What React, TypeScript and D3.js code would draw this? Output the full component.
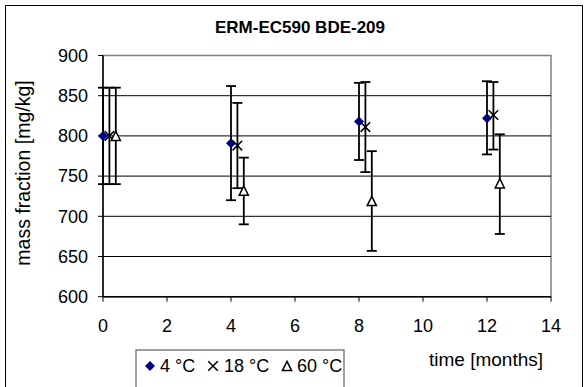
import React from "react";
import * as d3 from "d3";

const seriesNames = ["4 °C", "18 °C", "60 °C"];
const times4 = [0, 4, 8, 12];
const values4 = [800, 791, 818, 822];
const low4 = [740, 720, 770, 777];
const high4 = [860, 862, 866, 868];

const times18 = [0.2, 4.2, 8.2, 12.2];
const values18 = [800, 788, 811, 826];
const low18 = [740, 735, 755, 783];
const high18 = [860, 841, 867, 867];

const times60 = [0.4, 4.4, 8.4, 12.4];
const values60 = [800, 732, 719, 741];
const low60 = [740, 690, 657, 678];
const high60 = [860, 773, 781, 802];

const xTicks = [0, 2, 4, 6, 8, 10, 12, 14];
const yTicks = [600, 650, 700, 750, 800, 850, 900];

const W = 588, H = 387;
const FONT = "Arial, 'Liberation Sans', sans-serif";

export default function App() {
  const left = 103, right = 551, top = 55.5, bottom = 296.7;
  const x = d3.scaleLinear().domain([0, 14]).range([left, right]);
  const y = d3.scaleLinear().domain([600, 900]).range([bottom, top]);

  const series = [
    { t: times4, v: values4, lo: low4, hi: high4, kind: "diamond" },
    { t: times18, v: values18, lo: low18, hi: high18, kind: "x" },
    { t: times60, v: values60, lo: low60, hi: high60, kind: "tri" },
  ];

  const marker = (kind: string, cx: number, cy: number, key: string) => {
    if (kind === "diamond") {
      const s = 5;
      return <path key={key} d={`M${cx},${cy - s}L${cx + s},${cy}L${cx},${cy + s}L${cx - s},${cy}Z`} fill="#000080" />;
    }
    if (kind === "x") {
      const s = 4.8;
      return <path key={key} d={`M${cx - s},${cy - s}L${cx + s},${cy + s}M${cx - s},${cy + s}L${cx + s},${cy - s}`} stroke="#000" strokeWidth={1.5} fill="none" />;
    }
    const s = 4.6;
    return <path key={key} d={`M${cx},${cy - s}L${cx + s},${cy + s}L${cx - s},${cy + s}Z`} stroke="#000" strokeWidth={1.5} fill="#fff" />;
  };

  return (
    <svg width={W} height={H} style={{ position: "absolute", left: 0, top: 0 }} fontFamily={FONT}>
      <rect x={0} y={0} width={W} height={H} fill="#fff" />
      <rect x={5.5} y={5.5} width={577} height={400} fill="none" stroke="#000" strokeWidth={1} />
      <text x={300} y={33} textAnchor="middle" fontWeight="bold" fontSize={17}>ERM-EC590 BDE-209</text>

      {/* plot border */}
      <rect x={left} y={top} width={right - left} height={bottom - top} fill="none" stroke="#808080" strokeWidth={1.5} />
      {/* gridlines */}
      {yTicks.filter(t => t > 600 && t < 900).map(t => (
        <line key={t} x1={left} x2={right} y1={y(t)} y2={y(t)} stroke="#000" strokeWidth={1} />
      ))}
      {/* axes */}
      <line x1={left} x2={left} y1={top} y2={bottom} stroke="#000" strokeWidth={1.5} />
      <line x1={left} x2={right} y1={bottom} y2={bottom} stroke="#000" strokeWidth={1.5} />
      {yTicks.map(t => (
        <g key={t}>
          <line x1={left - 5} x2={left} y1={y(t)} y2={y(t)} stroke="#000" strokeWidth={1} />
          <text x={88} y={y(t) + 6.3} textAnchor="end" fontSize={18}>{t}</text>
        </g>
      ))}
      {xTicks.map(t => (
        <g key={t}>
          <line x1={x(t)} x2={x(t)} y1={bottom} y2={bottom + 5} stroke="#000" strokeWidth={1} />
          <text x={x(t)} y={331.5} textAnchor="middle" fontSize={18}>{t}</text>
        </g>
      ))}
      <text transform="translate(30,173) rotate(-90)" textAnchor="middle" fontSize={19.5}>mass fraction [mg/kg]</text>
      <text x={486} y={366} textAnchor="middle" fontSize={19}>time [months]</text>

      {/* error bars and markers */}
      {series.map((s, si) => (
        <g key={si}>
          {s.t.map((t, i) => (
            <g key={i}>
              <line x1={x(t)} x2={x(t)} y1={y(s.hi[i])} y2={y(s.lo[i])} stroke="#000" strokeWidth={1.8} />
              <line x1={x(t) - 5} x2={x(t) + 5} y1={y(s.hi[i])} y2={y(s.hi[i])} stroke="#000" strokeWidth={1.8} />
              <line x1={x(t) - 5} x2={x(t) + 5} y1={y(s.lo[i])} y2={y(s.lo[i])} stroke="#000" strokeWidth={1.8} />
            </g>
          ))}
        </g>
      ))}
      {series.map((s, si) => (
        <g key={"m" + si}>
          {s.t.map((t, i) => marker(s.kind, x(t), y(s.v[i]), `${si}-${i}`))}
        </g>
      ))}

      {/* legend */}
      <rect x={136} y={350} width={208} height={60} fill="#fff" stroke="#808080" strokeWidth={1.5} />
      {marker("diamond", 150, 366, "l1")}
      <text x={160} y={372} fontSize={18}>{seriesNames[0]}</text>
      {marker("x", 213, 366, "l2")}
      <text x={224} y={372} fontSize={18}>{seriesNames[1]}</text>
      {marker("tri", 287, 366, "l3")}
      <text x={297} y={372} fontSize={18}>{seriesNames[2]}</text>
    </svg>
  );
}
